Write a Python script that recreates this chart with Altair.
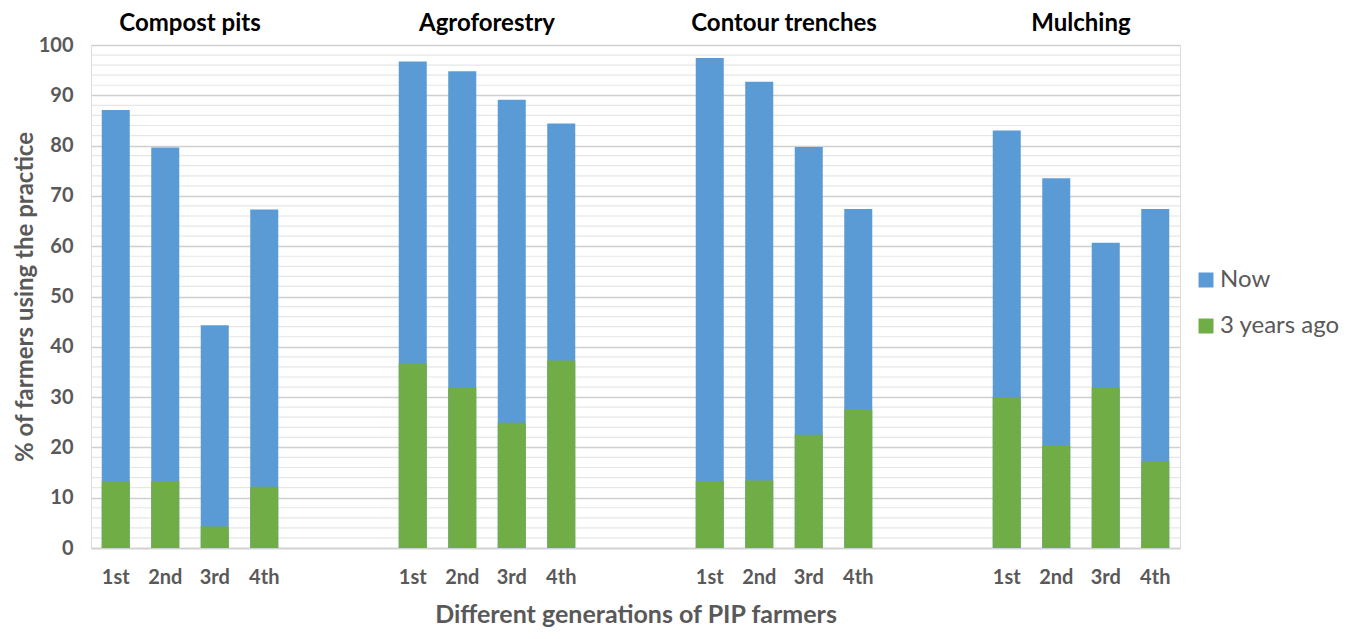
import altair as alt
import pandas as pd

practices = ["Compost pits", "Agroforestry", "Contour trenches", "Mulching"]
generations = ["1st", "2nd", "3rd", "4th"]
now = [
    [87.1, 79.6, 44.3, 67.3],
    [96.7, 94.8, 89.1, 84.4],
    [97.4, 92.7, 79.7, 67.4],
    [83.0, 73.5, 60.7, 67.4],
]
three_years_ago = [
    [13.2, 13.3, 4.3, 12.2],
    [36.7, 31.8, 24.9, 37.3],
    [13.3, 13.4, 22.5, 27.5],
    [30.0, 20.4, 31.8, 17.3],
]
series = ["Now", "3 years ago"]
colors = ["#5B9BD5", "#70AD47"]
y_ticks = [0, 10, 20, 30, 40, 50, 60, 70, 80, 90, 100]
minor_grid = [v for v in range(2, 100, 2) if v % 10 != 0]

FONT = "Lato"
GRAY = "#595959"

# x domain: 4 bars per practice, two empty slots between practices
domain = []
for i, p in enumerate(practices):
    for g in generations:
        domain.append(f"{p}|{g}")
    if i < len(practices) - 1:
        domain.append(f"gap{i}a")
        domain.append(f"gap{i}b")

rows = []
for s, vals in zip(series, [now, three_years_ago]):
    for i, p in enumerate(practices):
        for j, g in enumerate(generations):
            rows.append({"slot": f"{p}|{g}", "practice": p, "generation": g,
                         "series": s, "value": vals[i][j]})
df = pd.DataFrame(rows)

titles_df = pd.DataFrame({"practice": practices,
                          "slot": [f"{p}|2nd" for p in practices]})

x_scale = alt.Scale(domain=domain, paddingInner=0.434, paddingOuter=0.217)
y_scale = alt.Scale(domain=[0, 100])
y_title = "% of farmers using the practice"

minor = alt.Chart(pd.DataFrame({"v": minor_grid})).mark_rule(
    color="#e6e6e6", strokeWidth=1.2
).encode(y=alt.Y("v:Q", scale=y_scale, title=y_title))

bars = alt.Chart(df).mark_bar().encode(
    x=alt.X("slot:N", scale=x_scale, sort=domain,
            title="Different generations of PIP farmers",
            axis=alt.Axis(
                labelExpr="indexof(datum.label, '|') >= 0 ? split(datum.label, '|')[1] : ''",
                labelAngle=0, labelFontSize=20, labelFontWeight="bold",
                labelColor=GRAY, labelPadding=19, ticks=False,
                domainColor="#d0d0d0", domainWidth=1.5,
                titleFontSize=25, titleFontWeight="bold", titleColor=GRAY,
                titlePadding=15, labelFont=FONT, titleFont=FONT)),
    y=alt.Y("value:Q", scale=y_scale, stack=None, title=y_title,
            axis=alt.Axis(values=y_ticks, labelFontSize=20, labelFontWeight="bold",
                          labelColor=GRAY, labelPadding=18, ticks=False,
                          domain=False, grid=True, gridColor="#cfcfcf",
                          gridWidth=1.5, titleFontSize=24, titleFontWeight="bold",
                          titleColor=GRAY, titlePadding=1,
                          labelFont=FONT, titleFont=FONT)),
    color=alt.Color("series:N", scale=alt.Scale(domain=series, range=colors),
                    legend=alt.Legend(title=None, orient="none", legendX=1103,
                                      legendY=223, symbolType="square",
                                      symbolSize=225, symbolStrokeWidth=0,
                                      labelFontSize=24, labelColor=GRAY,
                                      labelFont=FONT, rowPadding=22,
                                      labelOffset=2, padding=0)),
)

group_titles = alt.Chart(titles_df).mark_text(
    dx=24.75, fontSize=24, fontWeight="bold", color="black", font=FONT,
    baseline="middle", align="center"
).encode(
    x=alt.X("slot:N", scale=x_scale, sort=domain),
    y=alt.value(-21),
    text="practice:N",
)

chart = alt.layer(minor, bars, group_titles).properties(
    width=1089, height=503,
    autosize=alt.AutoSizeParams(type="none"),
    padding={"left": 83, "top": 37, "right": 168, "bottom": 82},
).configure_view(stroke=None).configure(font=FONT)

chart.save("out.html", embed_options={"renderer": "svg", "actions": False})
